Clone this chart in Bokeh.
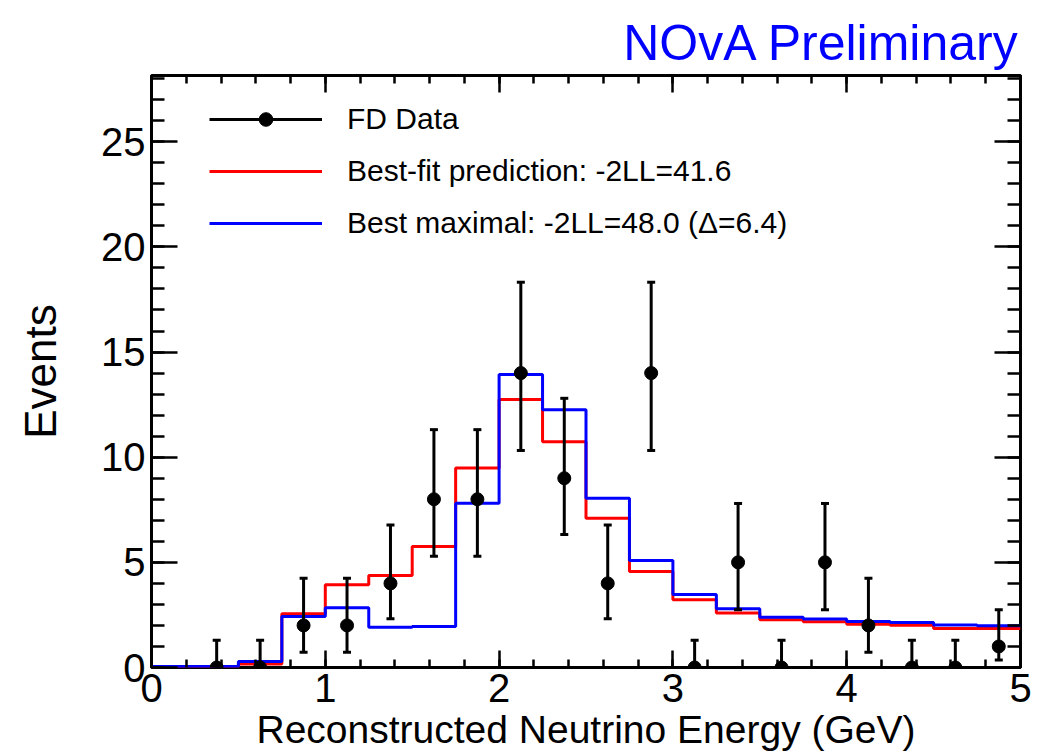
from bokeh.plotting import figure
from bokeh.models import (Range1d, LinearAxis, SingleIntervalTicker, Legend, LegendItem,
                          Title, ColumnDataSource, CustomJSTickFormatter)
from bokeh.embed import file_html
from bokeh.resources import INLINE

FONT = "Liberation Sans"

# Reconstructed energy bin edges (GeV) for the predictions
bin_edges = [0.0, 0.25, 0.5, 0.75, 1.0, 1.25, 1.5, 1.75, 2.0, 2.25, 2.5,
             2.75, 3.0, 3.25, 3.5, 3.75, 4.0, 4.25, 4.5, 4.75, 5.0]

# Predicted events per bin
best_fit = [0.04, 0.04, 0.17, 2.55, 3.93, 4.37, 5.75, 9.49, 12.74, 10.74,
            7.10, 4.56, 3.22, 2.59, 2.27, 2.17, 2.06, 2.01, 1.86, 1.85]
best_maximal = [0.05, 0.05, 0.28, 2.43, 2.84, 1.91, 1.95, 7.81, 13.93, 12.26,
                8.05, 5.09, 3.47, 2.79, 2.39, 2.31, 2.19, 2.14, 2.02, 1.98]

# FD data: bin centres, observed counts and 68% interval bounds
data_x = [0.375, 0.625, 0.875, 1.125, 1.375, 1.625, 1.875, 2.125, 2.375, 2.625,
          2.875, 3.125, 3.375, 3.625, 3.875, 4.125, 4.375, 4.625, 4.875]
data_n = [0, 0, 2, 2, 4, 8, 8, 14, 9, 4, 14, 0, 5, 0, 5, 2, 0, 0, 1]
data_lo = [0, 0, 0.72, 0.72, 2.32, 5.29, 5.29, 10.32, 6.33, 2.32, 10.32, 0,
           2.75, 0, 2.75, 0.72, 0, 0, 0.36]
data_hi = [1.29, 1.29, 4.24, 4.24, 6.78, 11.31, 11.31, 18.32, 12.80, 6.78, 18.32,
           1.29, 7.80, 1.29, 7.80, 4.24, 1.29, 1.29, 2.75]

x_title = "Reconstructed Neutrino Energy (GeV)"
y_title = "Events"
header = "NOvA Preliminary"
label_fit = "Best-fit prediction: -2LL=41.6"
label_max = "Best maximal: -2LL=48.0 (\u0394=6.4)"
label_data = "FD Data"

X_MAX = 5.0
Y_MAX = 28.15

p = figure(width=1045, height=755, output_backend="svg", toolbar_location=None,
           x_range=Range1d(0, X_MAX), y_range=Range1d(0, Y_MAX),
           min_border_left=151, min_border_right=25, min_border_top=75,
           min_border_bottom=88, x_axis_type=None, y_axis_type=None)
p.background_fill_color = "white"
p.border_fill_color = "white"
p.outline_line_color = "black"
p.outline_line_width = 3


def style_axis(ax, major_len, minor_len, show_labels):
    ax.axis_line_color = None
    ax.major_tick_in = major_len
    ax.major_tick_out = 0
    ax.minor_tick_in = minor_len
    ax.minor_tick_out = 0
    ax.major_tick_line_width = 2.5
    ax.minor_tick_line_width = 2.5
    ax.major_tick_line_color = "black"
    ax.minor_tick_line_color = "black"
    if show_labels:
        ax.major_label_text_font = FONT
        ax.major_label_text_font_size = "40px"
        ax.major_label_text_color = "black"
        ax.major_label_standoff = 6
        ax.axis_label_text_font = FONT
        ax.axis_label_text_font_style = "normal"
        ax.axis_label_text_color = "black"
    else:
        ax.formatter = CustomJSTickFormatter(code="return ''")
        ax.major_label_standoff = 0


x_bottom = LinearAxis(ticker=SingleIntervalTicker(interval=1, num_minor_ticks=5))
style_axis(x_bottom, 17, 8, True)
x_bottom.axis_label = x_title
x_bottom.axis_label_text_font_size = "39px"
x_bottom.axis_label_standoff = 3
p.add_layout(x_bottom, "below")

x_top = LinearAxis(ticker=SingleIntervalTicker(interval=1, num_minor_ticks=5))
style_axis(x_top, 17, 8, False)
p.add_layout(x_top, "above")

y_left = LinearAxis(ticker=SingleIntervalTicker(interval=5, num_minor_ticks=5))
style_axis(y_left, 26, 13, True)
y_left.axis_label = y_title
y_left.axis_label_text_font_size = "44px"
y_left.axis_label_standoff = 33
p.add_layout(y_left, "left")

y_right = LinearAxis(ticker=SingleIntervalTicker(interval=5, num_minor_ticks=5))
style_axis(y_right, 26, 13, False)
p.add_layout(y_right, "right")

p.add_layout(Title(text=header, align="right", vertical_align="top",
                   text_font=FONT, text_font_size="50px", text_font_style="normal",
                   text_color="#0000ff", standoff=6), "above")

# Prediction histograms
r_fit = p.step(x=bin_edges, y=best_fit + [best_fit[-1]], mode="after",
               line_color="#ff0000", line_width=3)
r_max = p.step(x=bin_edges, y=best_maximal + [best_maximal[-1]], mode="after",
               line_color="#0000ff", line_width=3)

# Data with asymmetric error bars
src = ColumnDataSource(dict(x=data_x, n=data_n, lo=data_lo, hi=data_hi))
r_err = p.segment(x0="x", y0="lo", x1="x", y1="hi", source=src,
                  line_color="black", line_width=3)
p.scatter(x="x", y="hi", source=src, marker="dash", size=8,
          line_color="black", line_width=3)
p.scatter(x="x", y="lo", source=src, marker="dash", size=8,
          line_color="black", line_width=3)
r_pts = p.scatter(x="x", y="n", source=src, marker="circle", size=13,
                  fill_color="black", line_color="black")

legend = Legend(items=[
    LegendItem(label=label_data, renderers=[r_err, r_pts]),
    LegendItem(label=label_fit, renderers=[r_fit]),
    LegendItem(label=label_max, renderers=[r_max]),
], location=(58, 427), glyph_width=113, glyph_height=34, label_height=34,
    spacing=18, label_standoff=25, padding=0, margin=0,
    label_text_font=FONT, label_text_font_size="30px", label_text_color="black",
    border_line_color=None, background_fill_alpha=0)
p.add_layout(legend)

open("out.html", "w").write(file_html(p, INLINE))
